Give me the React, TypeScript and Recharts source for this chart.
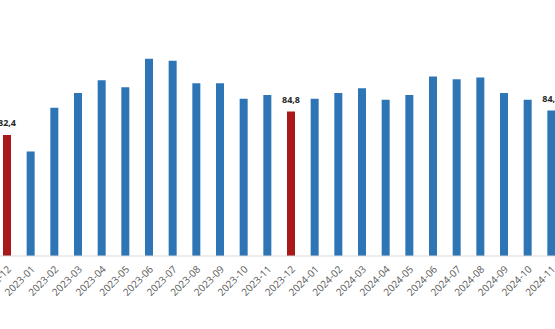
import { BarChart, Bar, XAxis, YAxis, Cell, LabelList } from "recharts";

const months = [
  "2022-12", "2023-01", "2023-02", "2023-03", "2023-04", "2023-05",
  "2023-06", "2023-07", "2023-08", "2023-09", "2023-10", "2023-11",
  "2023-12", "2024-01", "2024-02", "2024-03", "2024-04", "2024-05",
  "2024-06", "2024-07", "2024-08", "2024-09", "2024-10", "2024-11",
];

const values = [
  82.4, 80.7, 85.2, 86.7, 88.0, 87.3,
  90.2, 90.0, 87.7, 87.7, 86.1, 86.5,
  84.8, 86.1, 86.7, 87.2, 86.0, 86.5,
  88.4, 88.1, 88.3, 86.7, 86.0, 84.9,
];

// months shown in red and months that carry a value label
const redMonths = ["2022-12", "2023-12"];
const labelledMonths = ["2022-12", "2023-12", "2024-11"];

const data = months.map((m, i) => ({ month: m, value: values[i] }));

const fmt = (v: number) => v.toFixed(1).replace(".", ",");

function RotatedTick(props: any) {
  const { x, y, payload } = props;
  return (
    <g transform={`translate(${x + 5},${y + 6})`}>
      <text
        transform="rotate(-45)"
        textAnchor="end"
        fontSize={10}
        fill="#595959"
        fontFamily="'Open Sans', sans-serif"
      >
        {payload.value}
      </text>
    </g>
  );
}

function ValueLabel(props: any) {
  const { x, y, width, index } = props;
  if (!labelledMonths.includes(months[index])) return null;
  return (
    <text
      x={x + width / 2}
      y={y - 9}
      textAnchor="middle"
      fontSize={9}
      fontWeight="bold"
      fill="#262626"
      fontFamily="'Open Sans', sans-serif"
    >
      {fmt(values[index])}
    </text>
  );
}

export default function App() {
  return (
    <div
      style={{
        position: "fixed",
        left: 0,
        top: 0,
        width: 555,
        height: 329,
        overflow: "hidden",
        background: "#fff",
      }}
    >
      <div style={{ position: "absolute", left: -4.8, top: 0 }}>
        <BarChart
          width={568}
          height={329}
          data={data}
          margin={{ top: 12, right: 0, bottom: 0, left: 0 }}
          barCategoryGap={0}
        >
          <YAxis hide domain={[70, 95]} allowDataOverflow />
          <XAxis
            dataKey="month"
            height={73}
            interval={0}
            tickLine={false}
            axisLine={{ stroke: "#d9d9d9" }}
            tick={<RotatedTick />}
          />
          <Bar dataKey="value" barSize={8} isAnimationActive={false}>
            {data.map((d) => (
              <Cell
                key={d.month}
                fill={redMonths.includes(d.month) ? "#a81a1a" : "#2e75b6"}
              />
            ))}
            <LabelList dataKey="value" content={<ValueLabel />} />
          </Bar>
        </BarChart>
      </div>
    </div>
  );
}
